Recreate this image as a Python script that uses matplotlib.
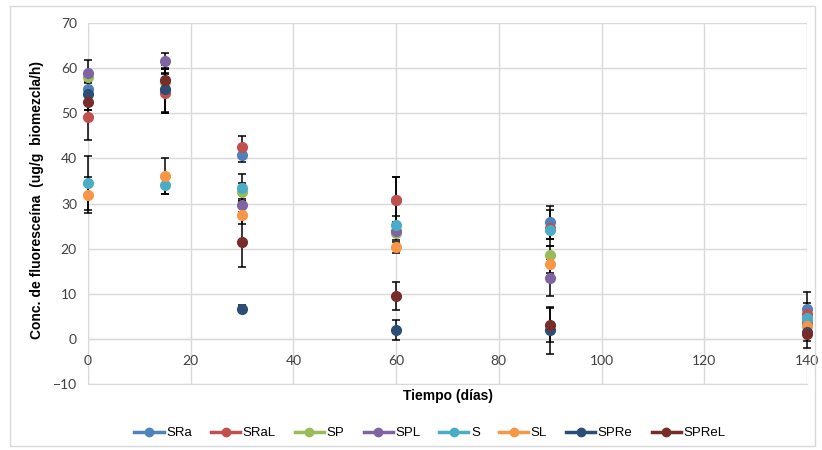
import numpy as np
import matplotlib.pyplot as plt
from matplotlib.patches import Rectangle

# sampling days
dias = [0, 15, 30, 60, 90, 140]

series = ['SRa', 'SRaL', 'SP', 'SPL', 'S', 'SL', 'SPRe', 'SPReL']
colors = ['#4F81BD', '#C0504D', '#9BBB59', '#8064A2', '#4BACC6', '#F79646', '#2C4D75', '#772C2A']

SRa = [55.4, 55.0, 40.7, 30.8, 25.8, 6.7]
SRaL = [49.1, 54.4, 42.6, 30.8, 24.5, 5.5]
SP = [58.0, 56.9, 32.6, 23.4, 18.6, 4.2]
SPL = [58.9, 61.5, 29.6, 23.9, 13.6, 3.6]
S = [34.5, 34.1, 33.5, 25.3, 24.2, 4.7]
SL = [31.8, 36.1, 27.5, 20.3, 16.6, 2.9]
SPRe = [54.3, 55.4, 6.7, 1.9, 1.9, 1.6]
SPReL = [52.5, 57.3, 21.4, 9.5, 3.1, 1.0]

SRa_err = [1.5, 5.0, 1.5, 5.0, 3.7, 3.6]
SRaL_err = [5.0, 4.4, 2.3, 5.0, 4.0, 2.5]
SP_err = [1.2, 2.0, 2.0, 1.5, 2.0, 2.0]
SPL_err = [3.0, 1.8, 1.5, 1.2, 4.2, 2.0]
S_err = [6.0, 2.0, 3.0, 2.0, 2.0, 2.0]
SL_err = [4.0, 4.0, 2.0, 1.2, 2.0, 2.0]
SPRe_err = [3.5, 5.2, 0.8, 2.2, 5.2, 2.0]
SPReL_err = [1.8, 2.5, 5.4, 3.0, 3.7, 3.1]

valores = [SRa, SRaL, SP, SPL, S, SL, SPRe, SPReL]
errores = [SRa_err, SRaL_err, SP_err, SPL_err, S_err, SL_err, SPRe_err, SPReL_err]

fig = plt.figure(figsize=(8.22, 4.5), dpi=100)
ax = fig.add_axes([88/822, 1-384/450, (807-88)/822, (384-23)/450])

# chart border
fig.patches.append(Rectangle((10/822, 4/450), 805/822, 440/450, transform=fig.transFigure,
                             fill=False, edgecolor='#D9D9D9', linewidth=1))

for name, vals, errs, c in zip(series, valores, errores, colors):
    eb = ax.errorbar(dias, vals, yerr=errs, fmt='none', ecolor='black', elinewidth=1.1,
                     capsize=3, capthick=1.1, zorder=3)
    for art in eb.lines[1] + eb.lines[2]:
        art.set_clip_on(False)
for name, vals, c in zip(series, valores, colors):
    ax.plot(dias, vals, linestyle='none', marker='o', markersize=7, color=c, zorder=4,
            clip_on=False)
    # legend handles
    ax.plot([], [], marker='o', markersize=6, color=c, linewidth=2.5, label=name)

ax.set_xlim(0, 140)
ax.set_ylim(-10, 70)
ax.set_yticks(np.arange(-10, 71, 10))
ax.set_xticks(np.arange(0, 141, 20))
ax.grid(True, color='#D9D9D9', linewidth=1)
ax.set_axisbelow(True)
ax.axhline(0, color='#D9D9D9', linewidth=1, zorder=1)
for s in ['top', 'right']:
    ax.spines[s].set_visible(False)
ax.spines['left'].set_color('#D9D9D9')
ax.spines['bottom'].set_color('#D9D9D9')
ax.tick_params(length=0)
ax.tick_params(axis='y', labelsize=10, colors='#404040', pad=8)
for lab in ax.get_yticklabels():
    lab.set_family('Lato')
ax.set_xticklabels([])
for t in np.arange(0, 141, 20):
    ax.text(t, -5, str(t), ha='center', va='center', fontsize=10, color='#404040', family='Lato')

fig.text(448/822, 1-396/450, 'Tiempo (días)', ha='center', va='center', fontsize=10,
         fontweight='bold', family='Liberation Sans')
fig.text(37/822, 1-200/450, 'Conc. de fluoresceína  (ug/g  biomezcla/h)', ha='center', va='center',
         rotation=90, fontsize=10, fontweight='bold', family='Liberation Sans')

fig.legend(loc='center', bbox_to_anchor=(430/822, 1-433/450), ncol=8, frameon=False,
           prop={'family': 'Liberation Sans', 'size': 9.5}, handlelength=2.2, columnspacing=1.45,
           handletextpad=0.2)

fig.savefig('out.png', dpi=100)
